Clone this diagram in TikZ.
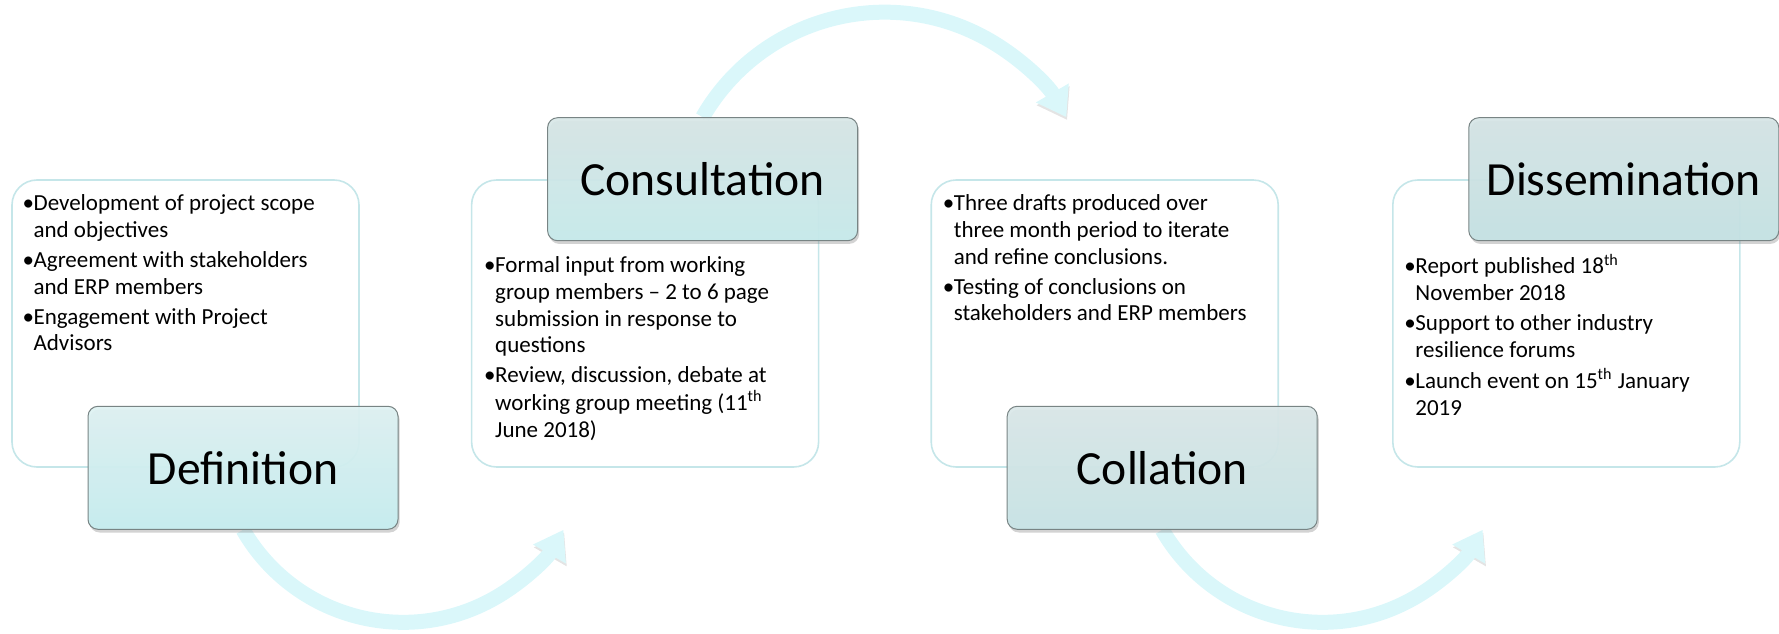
\documentclass[tikz,border=0pt]{standalone}
\usepackage{fontspec}
\setmainfont{Carlito}
\usepackage{tikz}
\usetikzlibrary{positioning, arrows.meta, shadows}

\definecolor{bordo}{RGB}{197,230,233}
\definecolor{azzurrino}{RGB}{218,247,250}
\definecolor{cornice}{RGB}{120,132,132}
\definecolor{defsu}{RGB}{223,242,243}
\definecolor{defgiu}{RGB}{198,239,241}
\definecolor{consu}{RGB}{216,231,231}
\definecolor{congiu}{RGB}{199,236,237}
\definecolor{colsu}{RGB}{219,232,233}
\definecolor{colgiu}{RGB}{200,229,231}
\definecolor{dissu}{RGB}{214,229,230}
\definecolor{disgiu}{RGB}{197,227,229}

\newenvironment{puntini}{\begin{tabular}{@{}p{5.5pt}@{}l@{}}}{\end{tabular}}
\newcommand{\punto}{\textbullet &}

\pgfdeclarelayer{sfondo}
\pgfsetlayers{sfondo,main}

\begin{document}
\begin{tikzpicture}[x=0.5pt, y=0.5pt, >=Latex,
  riquadro/.style={draw=bordo, line width=0.8pt, rounded corners=12.5pt,
    minimum width=173.5pt, minimum height=143.5pt, fill=white},
  titolo/.style={draw=cornice, line width=0.5pt, rounded corners=5pt,
    minimum width=155pt, minimum height=61.5pt, fill opacity=0.92, text opacity=1,
    font=\fontsize{23.8}{28}\selectfont,
    drop shadow={shadow xshift=0.8pt, shadow yshift=-1.6pt, opacity=0.35}},
  elenco/.style={anchor=north west, inner sep=0pt,
    font=\fontsize{11.5}{13.35}\selectfont},
  arco/.style={draw=azzurrino, line width=7.5pt, -{Triangle[width=18pt,length=14pt]},
    preaction={draw=black!30, opacity=0.35, transform canvas={xshift=0.4pt, yshift=-1.4pt}}}
]
\useasboundingbox (0,0) rectangle (1779,633);

% riquadri di testo
\node[riquadro] (defbox) at (185.5,309.5) {};
\node[riquadro, right=55.5pt of defbox] (conbox) {};
\node[riquadro, right=55.5pt of conbox] (colbox) {};
\node[riquadro, right=56.5pt of colbox] (disbox) {};

% titoli
\node[titolo, top color=defsu, bottom color=defgiu] (def) at ([xshift=28.75pt]defbox.south) {Definition};
\node[titolo, top color=consu, bottom color=congiu] (con) at ([xshift=28.75pt]conbox.north) {Consultation};
\node[titolo, top color=colsu, bottom color=colgiu] (col) at ([xshift=28.75pt]colbox.south) {Collation};
\node[titolo, top color=dissu, bottom color=disgiu] (dis) at ([xshift=28.75pt]disbox.north) {Dissemination};

% elenchi
\node[elenco] (deftxt) at ([xshift=5.5pt, yshift=-6.2pt]defbox.north west) {%
  \begin{puntini}
  \punto Development of project scope\\
         & and objectives\\[1.65pt]
  \punto Agreement with stakeholders\\
         & and ERP members\\[1.65pt]
  \punto Engagement with Project\\
         & Advisors
  \end{puntini}};
\node[elenco] (contxt) at ([xshift=6.5pt, yshift=-37.2pt]conbox.north west) {%
  \begin{puntini}
  \punto Formal input from working\\
         & group members – 2 to 6 page\\
         & submission in response to\\
         & questions\\[1.65pt]
  \punto Review, discussion, debate at\\
         & working group meeting (11\textsuperscript{th}\\
         & June 2018)
  \end{puntini}};
\node[elenco] (coltxt) at ([xshift=6pt, yshift=-6.2pt]colbox.north west) {%
  \begin{puntini}
  \punto Three drafts produced over\\
         & three month period to iterate\\
         & and refine conclusions.\\[1.65pt]
  \punto Testing of conclusions on\\
         & stakeholders and ERP members
  \end{puntini}};
\node[elenco] (distxt) at ([xshift=6pt, yshift=-37.2pt]disbox.north west) {%
  \begin{puntini}
  \punto Report published 18\textsuperscript{th}\\
         & November 2018\\[1.65pt]
  \punto Support to other industry\\
         & resilience forums\\[1.65pt]
  \punto Launch event on 15\textsuperscript{th} January\\
         & 2019
  \end{puntini}};

% frecce
\begin{pgfonlayer}{sfondo}
\draw[arco] (def.south) arc[start angle=210, end angle=330, radius=92.5pt];
\draw[arco] (con.north) arc[start angle=150, end angle=30, radius=105pt];
\draw[arco] (col.south) arc[start angle=210, end angle=330, radius=92.5pt];
\end{pgfonlayer}

\end{tikzpicture}
\end{document}
